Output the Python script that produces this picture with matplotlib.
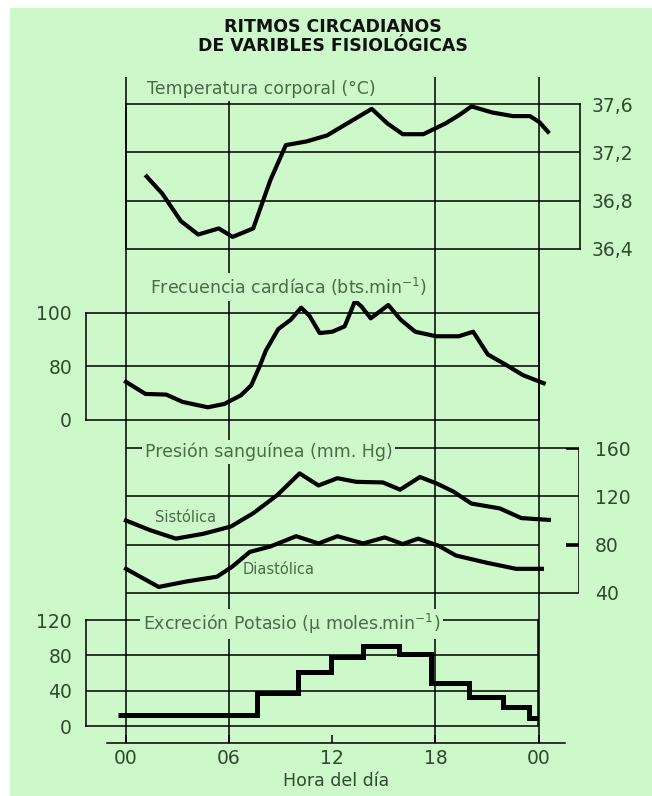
import numpy as np
import matplotlib.pyplot as plt

# --- data (hours of the day) ---
temp_hours = [1.2, 2.1, 3.2, 4.2, 5.4, 6.2, 7.4, 8.4, 9.3, 10.5, 11.7, 13.0, 14.3,
              15.2, 16.1, 17.3, 18.6, 19.4, 20.1, 21.3, 22.5, 23.5, 24.05, 24.55]
temp_vals = [37.0, 36.86, 36.63, 36.52, 36.57, 36.5, 36.57, 36.97, 37.26, 37.29, 37.34,
             37.45, 37.56, 37.44, 37.35, 37.35, 37.44, 37.51, 37.58, 37.53, 37.5, 37.5,
             37.45, 37.37]

heart_hours = [0, 1.13, 2.34, 3.3, 4.76, 5.72, 6.69, 7.29, 7.77, 8.14, 8.86, 9.59, 10.19,
               10.67, 11.27, 12.0, 12.72, 13.33, 13.69, 14.24, 15.26, 15.98, 16.83, 18.04,
               19.36, 20.2, 21.05, 22.14, 23.1, 24.3]
heart_vals = [57, 39, 38, 27, 19, 24, 37, 52, 80, 86, 94, 97.5, 102, 99, 92.5, 93, 95,
              104.5, 102.5, 98, 103, 97.5, 93, 91.3, 91.3, 93, 84.5, 80.5, 67, 55]

sys_hours = [0, 1.4, 2.9, 4.5, 6.1, 7.4, 8.8, 10.1, 11.2, 12.3, 13.4, 14.95, 15.95,
             17.1, 18.1, 19.04, 20.1, 21.75, 23.0, 24.6]
sys_vals = [100, 92, 85, 89, 95, 106, 121, 139, 129, 135, 132, 131.5, 125.5,
            136, 130.5, 124, 114, 110, 102, 100.5]

dia_hours = [0, 1.9, 3.5, 5.3, 6.2, 7.2, 8.4, 9.9, 11.2, 12.3, 13.8, 15.05, 16.1,
             17.0, 18.2, 19.2, 21.0, 22.7, 24.2]
dia_vals = [60, 45, 49.5, 53.5, 62, 74, 78.5, 87, 81, 87, 81, 86, 80.5,
            85, 79, 71, 65, 60, 60]

pot_edges = [-0.45, 7.6, 10.0, 11.95, 13.8, 15.9, 17.75, 19.95, 21.95, 23.45, 23.95]
pot_vals = [13, 37, 61, 78, 91, 82, 49, 33, 22, 9]

temp_ticks = [36.4, 36.8, 37.2, 37.6]
temp_labels = ['36,4', '36,8', '37,2', '37,6']
heart_ticks = [0, 80, 100]
press_ticks = [40, 80, 120, 160]
pot_ticks = [0, 40, 80, 120]
hour_ticks = [0, 6, 12, 18, 24]
hour_labels = ['00', '06', '12', '18', '00']

# --- layout (pixels) ---
W, H = 652, 796
X0, PXH = 126, 412.5 / 24          # pixel of hour 0, pixels per hour
BG = '#cdf8c9'
INK = '#2f4a2f'
TXT = '#4a6a4a'
LW = 1.1


def add_px_axes(x0, y0, x1, y1):
    ax = fig.add_axes([x0 / W, 1 - y1 / H, (x1 - x0) / W, (y1 - y0) / H])
    ax.set_xlim((x0 - X0) / PXH, (x1 - X0) / PXH)
    ax.patch.set_alpha(0)
    ax.set_xticks([])
    for s in ax.spines.values():
        s.set_linewidth(LW)
    return ax


def h_at(px):
    return (px - X0) / PXH


fig = plt.figure(figsize=(W / 100, H / 100), dpi=100)
fig.patch.set_facecolor('white')

# green background panel with the long vertical hour lines
bg = fig.add_axes([10 / W, 0, (W - 10) / W, (H - 8) / H])
bg.set_xlim(h_at(10), h_at(W))
bg.set_ylim(H, 8)
bg.axis('off')
bg.add_patch(plt.Rectangle((h_at(10), 8), h_at(W) - h_at(10), H, color=BG, zorder=0))
bg.vlines([0, 6, 18, 24], 77, 743, color='black', lw=LW)

fig.text(333 / W, 1 - 27 / H, 'RITMOS CIRCADIANOS', ha='center', va='center',
         fontsize=12.5, fontweight='heavy', color='#111111')
fig.text(333 / W, 1 - 46 / H, 'DE VARIBLES FISIOLÓGICAS', ha='center', va='center',
         fontsize=12.5, fontweight='heavy', color='#111111')

title_kw = dict(ha='left', va='center', fontsize=12.5, color=TXT,
                bbox=dict(boxstyle='square,pad=0.15', fc=BG, ec='none'))
tick_kw = dict(labelsize=13.5, labelcolor=INK, length=0)

# Temperatura
ax = add_px_axes(126, 104, 580, 249)
ax.set_ylim(36.4, 37.6)
ax.hlines([36.8, 37.2], *ax.get_xlim(), color='black', lw=LW)
ax.plot(temp_hours, temp_vals, color='black', lw=3, clip_on=False, solid_joinstyle='round')
ax.yaxis.tick_right()
ax.set_yticks(temp_ticks, temp_labels)
ax.tick_params(axis='y', pad=8, **tick_kw)
fig.text(147 / W, 1 - 89 / H, 'Temperatura corporal (°C)', **title_kw)

# Frecuencia cardiaca (broken axis: 0-80 squeezed)
def fwd(v):
    v = np.asarray(v, float)
    return np.where(v <= 80, v / 80, 1 + (v - 80) / 20)


def inv(u):
    u = np.asarray(u, float)
    return np.where(u <= 1, u * 80, 80 + (u - 1) * 20)


ax = add_px_axes(86, 313, 539, 420)
ax.set_yscale('function', functions=(fwd, inv))
ax.set_ylim(0, 100)
ax.hlines([80], *ax.get_xlim(), color='black', lw=LW)
ax.plot(heart_hours, heart_vals, color='black', lw=3, clip_on=False, solid_joinstyle='round')
ax.set_yticks(heart_ticks, [str(t) for t in heart_ticks])
ax.yaxis.set_minor_locator(plt.NullLocator())
ax.tick_params(axis='y', pad=10, **tick_kw)
fig.text(150 / W, 1 - 287 / H, 'Frecuencia cardíaca (bts.min$^{-1}$)', **title_kw)

# Presion sanguinea
ax = add_px_axes(126, 448, 579, 593)
ax.set_ylim(40, 160)
for s in ax.spines.values():
    s.set_visible(False)
xl, xr = ax.get_xlim()
ax.hlines([40, 120, 160], xl, xr, color='black', lw=LW, clip_on=False)
ax.hlines(80, xl, 24, color='black', lw=LW)
ax.hlines([80, 160], h_at(566), xr, color='black', lw=2.6)
ax.vlines(xr, 40, 160, color='black', lw=LW)
ax.plot(sys_hours, sys_vals, color='black', lw=3, clip_on=False, solid_joinstyle='round')
ax.plot(dia_hours, dia_vals, color='black', lw=3, clip_on=False, solid_joinstyle='round')
ax.yaxis.tick_right()
ax.set_yticks(press_ticks, [str(t) for t in press_ticks])
ax.tick_params(axis='y', pad=11.5, **tick_kw)
fig.text(145 / W, 1 - 452 / H, 'Presión sanguínea (mm. Hg)', **title_kw)
fig.text(155 / W, 1 - 517 / H, 'Sistólica', ha='left', va='center', fontsize=10.5, color=TXT)
fig.text(243 / W, 1 - 570 / H, 'Diastólica', ha='left', va='center', fontsize=10.5, color=TXT)

# Excrecion potasio
ax = add_px_axes(86, 620, 538, 726)
ax.set_ylim(0, 120)
ax.hlines([40, 80], *ax.get_xlim(), color='black', lw=LW)
ax.stairs(pot_vals, pot_edges, baseline=None, color='black', lw=3.6, clip_on=False)
ax.set_yticks(pot_ticks, [str(t) for t in pot_ticks])
ax.tick_params(axis='y', pad=10, **tick_kw)
fig.text(143 / W, 1 - 624 / H, 'Excreción Potasio (µ moles.min$^{-1}$)', **title_kw)

# hour axis
ax = add_px_axes(107, 742, 565, 743)
ax.set_yticks([])
for side in ['top', 'left', 'right']:
    ax.spines[side].set_visible(False)
ax.set_xticks(hour_ticks, hour_labels)
ax.tick_params(axis='x', direction='in', length=6, width=LW, pad=4,
               labelsize=13.5, labelcolor=INK)
ax.set_xlabel('Hora del día', fontsize=12.5, color=INK, labelpad=3)

plt.savefig('out.png', dpi=100)
